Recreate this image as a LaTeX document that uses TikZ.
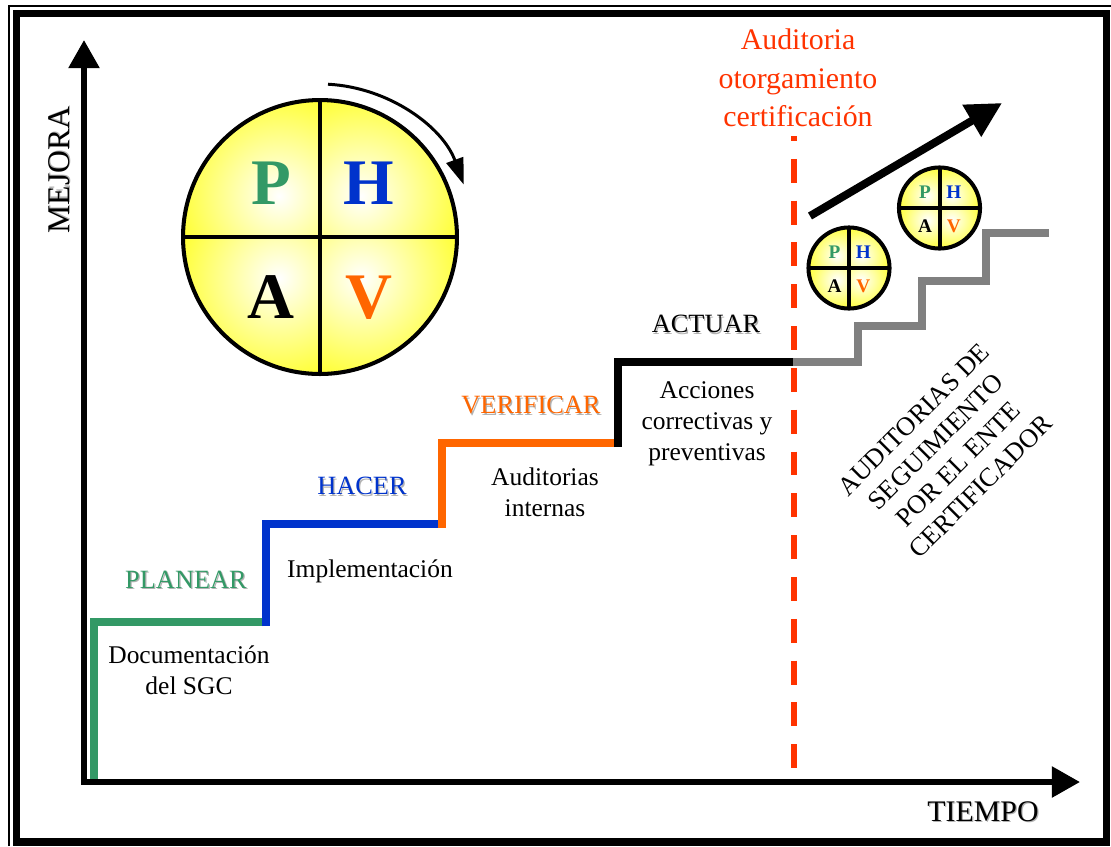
\documentclass[tikz,border=0pt]{standalone}
\usepackage{fontspec}
\setmainfont{Liberation Serif}
\usepackage{tikz}
\usetikzlibrary{arrows.meta}
\definecolor{verdeP}{HTML}{339966}
\definecolor{azulH}{HTML}{0033CC}
\definecolor{naranjaV}{HTML}{FF6600}
\definecolor{rojoC}{HTML}{FF3300}
\definecolor{grisS}{HTML}{808080}
\tikzstyle{escalon}=[line width=4.5pt]
\tikzstyle{eje}=[line width=3.4pt,-{Triangle[length=16pt,width=17pt]}]
\tikzstyle{rotulo}=[font=\fontsize{15}{18}\selectfont]
\tikzstyle{texto}=[align=center,font=\fontsize{14.5}{17.5}\selectfont]
\newcommand*{\sombra}[1]{\leavevmode\rlap{\raisebox{-0.7pt}{\hspace{0.7pt}\textcolor{black!30}{#1}}}#1}
\newcommand*{\ciclo}[1]{

\begin{tikzpicture}[x=2.74cm,y=2.74cm,line width=#1,every node/.style={font=\fontsize{37}{40}\selectfont\bfseries}]
%cuadrantes
\foreach \sx/\sy in {1/1,-1/1,-1/-1,1/-1} {
\begin{scope}
\clip (0,0) circle (1);
\clip (0,0) rectangle (\sx,\sy);
\shade[inner color=white,outer color=yellow] (0.3*\sx,0.3*\sy) circle (0.95);
\end{scope}
}

%contorno
\draw (0,0) circle (1);
\draw (-1,0) -- (1,0);
\draw (0,-1) -- (0,1);

%letras
\node[text=verdeP] at (-0.355,0.39) {P};
\node[text=azulH] at (0.355,0.39) {H};
\node[text=black] at (-0.355,-0.44) {A};
\node[text=naranjaV] at (0.355,-0.44) {V};
\end{tikzpicture}
}

\begin{document}
\begin{tikzpicture}[x=0.02cm,y=-0.02cm]
  \useasboundingbox (0,0) rectangle (1111,846);
  %marco
  \draw[line width=1.1pt] (9,846) -- (9,6) -- (1111,6);
  \draw[line width=4.2pt] (16.5,13.5) rectangle (1106.5,842);

  %escalones
  \foreach \xa/\ya/\xb/\yb/\c in {94/780/266/622/verdeP,266/626/442/524/azulH,442/528/618/443/naranjaV,618/447/793/362/black} {
	\draw[escalon,\c] (\xa,\ya) |- (\xb,\yb);
  }
  \draw[escalon,grisS] (793,362) -- (858,362) |- (922,326) |- (986,281) |- (1049,233);

  %ejes
  \coordinate (origen) at (84,782);
  \coordinate (tope) at (84,40);
  \coordinate (fin) at (1080,782);
  \draw[eje,line cap=rect] (origen) -- (tope);
  \draw[eje,line cap=rect] (origen) -- (fin);
  \node[font=\fontsize{18}{20}\selectfont,rotate=90] (mejora) at (60,170) {\sombra{MEJORA}};
  \node[font=\fontsize{17}{20}\selectfont] (tiempo) at (983,812) {\sombra{TIEMPO}};

  %etapas
  \node[rotulo,text=verdeP] (planear) at (186,580) {\sombra{PLANEAR}};
  \node[rotulo,text=azulH] (hacer) at (362,487) {\sombra{HACER}};
  \node[rotulo,text=naranjaV] (verificar) at (531,406) {\sombra{VERIFICAR}};
  \node[rotulo] (actuar) at (706,325) {\sombra{ACTUAR}};
  \node[texto] (doc) at (189,670) {Documentación\\del SGC};
  \node[texto] (impl) at (370,571) {Implementación};
  \node[texto] (audint) at (545,492) {Auditorias\\internas};
  \node[texto] (acciones) at (707,424) {Acciones\\correctivas y\\preventivas};

  %certificacion
  \node[align=center,text=rojoC,font=\fontsize{17}{21.8}\selectfont] (titulo) at (798,78) {Auditoria\\otorgamiento\\certificación};
  \coordinate (corteA) at (794,136);
  \coordinate (corteB) at (794,780);
  \draw[rojoC,line width=3.4pt,dash pattern=on 13.6pt off 10.2pt,dash phase=10.8pt] (corteA) -- (corteB);
  \node[align=center,rotate=45,font=\fontsize{15}{18}\selectfont] (seguimiento) at (947,453) {AUDITORIAS DE\\SEGUIMIENTO\\POR EL ENTE\\CERTIFICADOR};

  %ciclos
  \node[inner sep=0] (cicloG) at (320,237) {\ciclo{2.3pt}};
  \node[inner sep=0,scale=0.296] (cicloA) at (849,268) {\ciclo{7.7pt}};
  \node[inner sep=0,scale=0.296] (cicloB) at (939.5,208) {\ciclo{7.7pt}};
  \draw[line width=1.7pt,-{Triangle[length=15pt,width=10pt]}] ([shift={(-87:153)}]cicloG.center) arc[start angle=-87,end angle=-20,radius=153];

  %mejora continua
  \coordinate (subidaA) at (810,216);
  \coordinate (subidaB) at (1002,103);
  \draw[line width=4.5pt,-{Triangle[length=20pt,width=20pt]}] (subidaA) -- (subidaB);
\end{tikzpicture}
\end{document}
